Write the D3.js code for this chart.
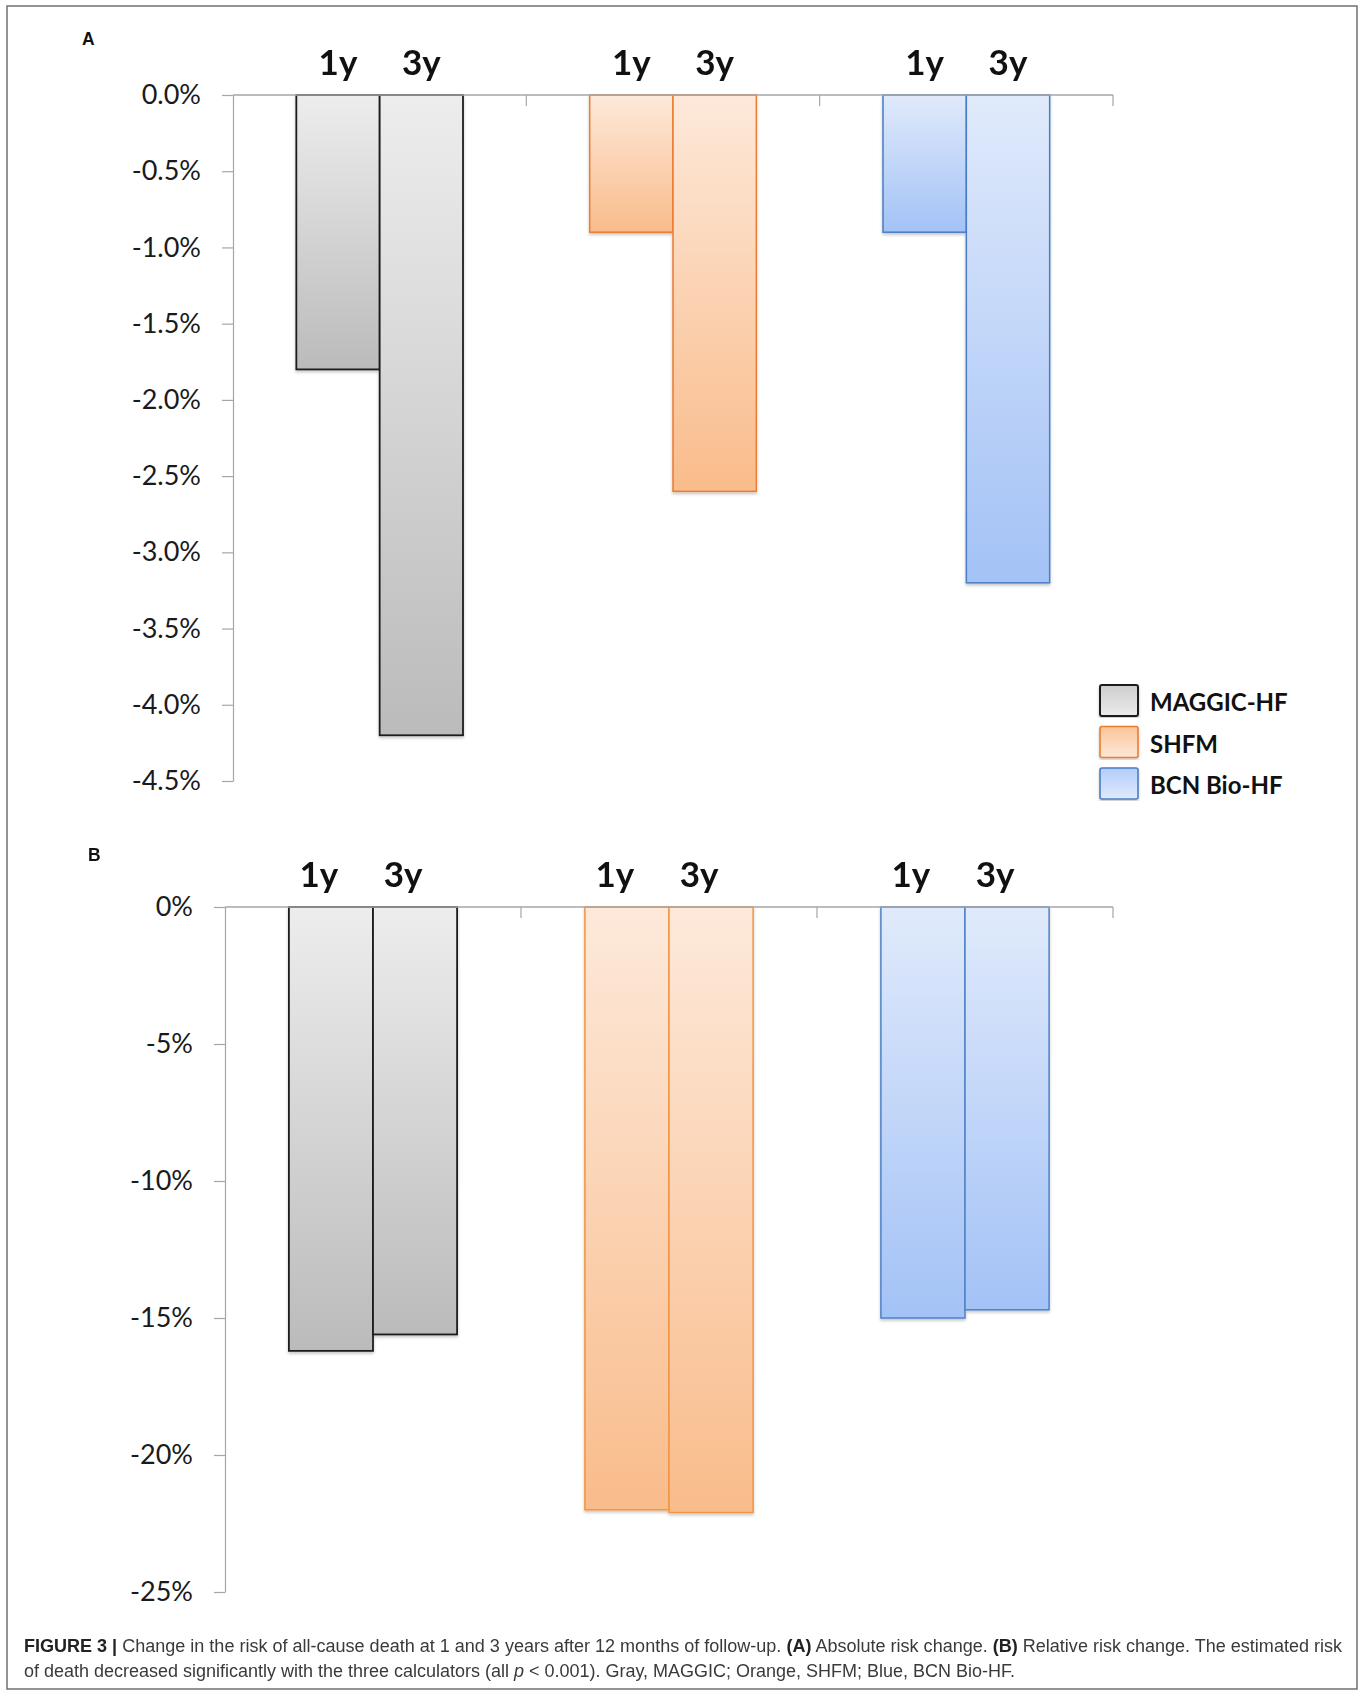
<!DOCTYPE html>
<html>
<head>
<meta charset="utf-8">
<script src="https://cdn.jsdelivr.net/npm/d3@7"></script>
<style>
  html, body { margin: 0; padding: 0; background: #fff; }
  svg { display: block; }
</style>
</head>
<body>
<script>
// Risk calculators and follow-up horizons
const calculators = ["MAGGIC-HF", "SHFM", "BCN Bio-HF"];
const horizons = ["1y", "3y"];

// (A) absolute risk change, % points
const absolute1y = [-1.8, -0.9, -0.9];
const absolute3y = [-4.2, -2.6, -3.2];

// (B) relative risk change, %
const relative1y = [-16.2, -22.0, -15.0];
const relative3y = [-15.6, -22.1, -14.7];

// Axis tick values
const absoluteTicks = [0, -0.5, -1.0, -1.5, -2.0, -2.5, -3.0, -3.5, -4.0, -4.5];
const relativeTicks = [0, -5, -10, -15, -20, -25];

const W = 1363, H = 1694;
const AXIS = "#a6a6a6";

const svg = d3.select("body").append("svg")
  .attr("width", W).attr("height", H);

svg.append("rect").attr("width", W).attr("height", H).attr("fill", "#fff");

// Fill and outline per calculator
const palette = {
  "MAGGIC-HF": { top: "#ededed", bottom: "#bbbbbb", legTop: "#cdcdcd", legBottom: "#ebebeb", stroke: "#1e1e1e" },
  "SHFM":      { top: "#fde9da", bottom: "#f9bc8b", legTop: "#fbc497", legBottom: "#fde8d8", stroke: "#ec7b30" },
  "BCN Bio-HF":{ top: "#e0eafb", bottom: "#a3c2f6", legTop: "#b2ccf8", legBottom: "#e0eafb", stroke: "#4a7ec4" }
};

const defs = svg.append("defs");
calculators.forEach((c, i) => {
  const p = palette[c];
  const g = defs.append("linearGradient").attr("id", "bar-" + i)
    .attr("x1", 0).attr("y1", 0).attr("x2", 0).attr("y2", 1);
  g.append("stop").attr("offset", "0%").attr("stop-color", p.top);
  g.append("stop").attr("offset", "100%").attr("stop-color", p.bottom);
  const l = defs.append("linearGradient").attr("id", "leg-" + i)
    .attr("x1", 0).attr("y1", 0).attr("x2", 0).attr("y2", 1);
  l.append("stop").attr("offset", "0%").attr("stop-color", p.legTop);
  l.append("stop").attr("offset", "100%").attr("stop-color", p.legBottom);
});
const shadow = defs.append("filter").attr("id", "shadow")
  .attr("x", "-10%").attr("y", "-5%").attr("width", "120%").attr("height", "110%");
shadow.append("feDropShadow").attr("dx", 0).attr("dy", 2).attr("stdDeviation", 1.5)
  .attr("flood-color", "#000").attr("flood-opacity", 0.22);

// Figure frame
svg.append("rect")
  .attr("x", 7).attr("y", 6).attr("width", 1350).attr("height", 1683)
  .attr("fill", "none").attr("stroke", "#707070").attr("stroke-width", 1.5);

function drawPanel(p) {
  const g = svg.append("g");
  const y = d3.scaleLinear().domain([0, d3.min(p.ticks)]).range(p.yRange);
  const x = d3.scaleBand().domain(calculators).range(p.xRange).padding(0);
  const xs = d3.scaleBand().domain(horizons).range([0, x.bandwidth()])
    .paddingInner(0).paddingOuter(0.76);

  // value axis
  const ya = g.append("g")
    .attr("transform", `translate(${p.xRange[0]},0)`)
    .call(d3.axisLeft(y).tickValues(p.ticks).tickFormat(p.format)
      .tickSize(11).tickPadding(21).tickSizeOuter(0));
  ya.select(".domain").attr("stroke", AXIS).attr("stroke-width", 1.2);
  ya.selectAll(".tick line").attr("stroke", AXIS).attr("stroke-width", 1.2);
  ya.selectAll(".tick text")
    .attr("font-family", "Lato, 'Open Sans', sans-serif")
    .attr("font-size", 27).attr("fill", "#1a1a1a");

  // bars
  const rows = calculators.map((c, i) => ({
    calc: c, idx: i,
    vals: horizons.map((h, k) => ({ h, v: p.series[k][i] }))
  }));
  const groups = g.append("g").attr("filter", "url(#shadow)")
    .selectAll("g").data(rows).join("g")
    .attr("transform", d => `translate(${x(d.calc)},0)`);
  groups.selectAll("rect").data(d => d.vals.map(v => ({ ...v, idx: d.idx, calc: d.calc })))
    .join("rect")
    .attr("x", d => xs(d.h))
    .attr("y", d => y(0))
    .attr("width", xs.bandwidth())
    .attr("height", d => y(d.v) - y(0))
    .attr("fill", d => `url(#bar-${d.idx})`)
    .attr("stroke", d => (p.strokes && p.strokes[d.calc]) || palette[d.calc].stroke)
    .attr("stroke-width", d => d.idx === 0 ? 1.8 : 1.5);

  // category axis along the zero line, ticks at group boundaries
  g.append("line")
    .attr("x1", p.xRange[0]).attr("x2", p.xRange[1])
    .attr("y1", y(0)).attr("y2", y(0))
    .attr("stroke", AXIS).attr("stroke-width", 1.4);
  g.append("g").selectAll("line").data(calculators).join("line")
    .attr("x1", d => x(d) + x.bandwidth()).attr("x2", d => x(d) + x.bandwidth())
    .attr("y1", y(0)).attr("y2", y(0) + 11)
    .attr("stroke", AXIS).attr("stroke-width", 1.2);

  // horizon labels above each bar
  const labels = [];
  calculators.forEach(c => horizons.forEach(h => labels.push({ c, h })));
  g.append("g").selectAll("text").data(labels).join("text")
    .attr("x", d => x(d.c) + xs(d.h) + xs.bandwidth() / 2 + p.labelShift)
    .attr("y", y(0) - 20)
    .attr("text-anchor", "middle")
    .attr("font-family", "Lato, 'Open Sans', sans-serif")
    .attr("font-weight", 700).attr("font-size", 35).attr("fill", "#111")
    .text(d => d.h);

  // panel letter
  svg.append("text")
    .attr("x", p.letterPos[0]).attr("y", p.letterPos[1])
    .attr("font-family", "'Liberation Sans', Arial, sans-serif")
    .attr("font-weight", 700).attr("font-size", 17.5).attr("fill", "#111")
    .text(p.letter);

  return { g, x, y };
}

const panelA = drawPanel({
  letter: "A", letterPos: [82, 45],
  series: [absolute1y, absolute3y],
  ticks: absoluteTicks,
  format: v => v.toFixed(1) + "%",
  yRange: [95, 781],
  xRange: [233, 1113],
  labelShift: 0
});

drawPanel({
  letter: "B", letterPos: [88, 861],
  series: [relative1y, relative3y],
  ticks: relativeTicks,
  format: v => v + "%",
  yRange: [907, 1592],
  xRange: [225, 1113],
  labelShift: -12,
  strokes: { "SHFM": "#f39443", "BCN Bio-HF": "#4f82c6" }
});

// legend
const legend = panelA.g.append("g").attr("transform", "translate(1100,685)");
const items = legend.selectAll("g").data(calculators).join("g")
  .attr("transform", (d, i) => `translate(0,${i * 41.5})`);
items.append("rect")
  .attr("width", 38).attr("height", 31).attr("rx", 2)
  .attr("fill", (d, i) => `url(#leg-${i})`)
  .attr("stroke", d => palette[d].stroke)
  .attr("stroke-width", (d, i) => i === 0 ? 2 : 1.6)
  .attr("filter", "url(#shadow)");
items.append("text")
  .attr("x", 50).attr("y", 26)
  .attr("font-family", "Lato, 'Open Sans', sans-serif")
  .attr("font-weight", 700).attr("font-size", 24).attr("fill", "#111")
  .text(d => d);

// caption
const cap = svg.append("g")
  .attr("font-family", "'Liberation Sans', Arial, sans-serif")
  .attr("font-size", 17.5).attr("fill", "#3a3a3a");
const l1 = cap.append("text").attr("x", 24).attr("y", 1652)
  .attr("textLength", 1318).attr("lengthAdjust", "spacingAndGlyphs");
l1.append("tspan").attr("font-weight", 700).attr("fill", "#222").text("FIGURE 3 | ");
l1.append("tspan").text("Change in the risk of all-cause death at 1 and 3 years after 12 months of follow-up. ");
l1.append("tspan").attr("font-weight", 700).attr("fill", "#222").text("(A)");
l1.append("tspan").text(" Absolute risk change. ");
l1.append("tspan").attr("font-weight", 700).attr("fill", "#222").text("(B)");
l1.append("tspan").text(" Relative risk change. The estimated risk");
const l2 = cap.append("text").attr("x", 24).attr("y", 1677)
  .attr("textLength", 991).attr("lengthAdjust", "spacingAndGlyphs");
l2.append("tspan").text("of death decreased significantly with the three calculators (all ");
l2.append("tspan").attr("font-style", "italic").text("p");
l2.append("tspan").text(" < 0.001). Gray, MAGGIC; Orange, SHFM; Blue, BCN Bio-HF.");
</script>
</body>
</html>
